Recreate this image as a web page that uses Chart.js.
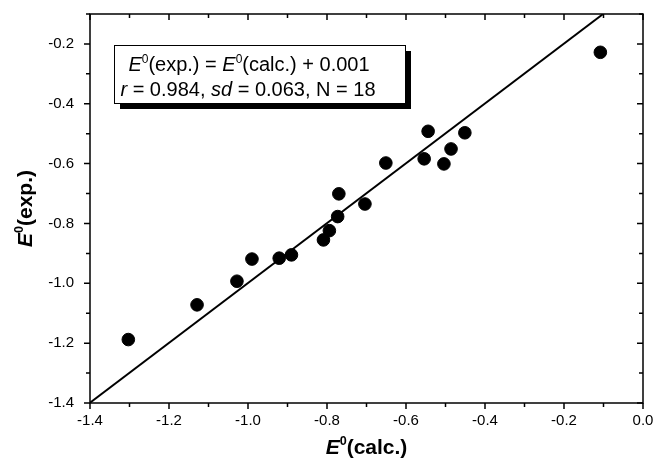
<!doctype html>
<html lang="en">
<head>
<meta charset="utf-8">
<title>E0 exp. vs calc.</title>
<script src="https://cdn.jsdelivr.net/npm/chart.js"></script>
<style>
  body { margin: 0; background: #fff; }
  #wrap { width: 654px; height: 468px; }
</style>
</head>
<body>
<div id="wrap"><canvas id="chart" width="654" height="468"></canvas></div>
<script>
  // measured points: E0(calc.) vs E0(exp.)
  const calcValues = [-1.303, -1.129, -1.028, -0.990, -0.921, -0.890, -0.809, -0.794, -0.773,
                      -0.770, -0.704, -0.651, -0.554, -0.544, -0.504, -0.486, -0.451, -0.108];
  const expValues  = [-1.188, -1.072, -0.993, -0.919, -0.916, -0.905, -0.855, -0.824, -0.777,
                      -0.701, -0.735, -0.598, -0.584, -0.492, -0.601, -0.551, -0.497, -0.228];

  // fit line E0(exp.) = E0(calc.) + 0.001
  const fitX = [-1.4, -0.101];
  const fitY = [-1.399, -0.1];

  const xTicks = [-1.4, -1.2, -1.0, -0.8, -0.6, -0.4, -0.2, 0.0];
  const yTicks = [-1.4, -1.2, -1.0, -0.8, -0.6, -0.4, -0.2];
  const xMinor = [-1.3, -1.1, -0.9, -0.7, -0.5, -0.3, -0.1];
  const yMinor = [-1.3, -1.1, -0.9, -0.7, -0.5, -0.3, -0.1];

  const FONT = '"Liberation Sans", Arial, sans-serif';

  // draw a line of text made of styled parts, centred on cx
  function drawRich(ctx, parts, cx, y, size, bold) {
    const w = bold ? 'bold ' : '';
    const fontFor = p => (p.italic ? 'italic ' : '') + w + (p.sup ? size * 0.6 : size) + 'px ' + FONT;
    let total = 0;
    parts.forEach(p => { ctx.font = fontFor(p); total += ctx.measureText(p.t).width; });
    let x = cx - total / 2;
    ctx.textAlign = 'left';
    ctx.textBaseline = 'alphabetic';
    parts.forEach(p => {
      ctx.font = fontFor(p);
      ctx.fillText(p.t, x, p.sup ? y - size * 0.42 : y);
      x += ctx.measureText(p.t).width;
    });
  }

  const decorations = {
    id: 'decorations',
    afterDatasetsDraw(chart) {
      const ctx = chart.ctx;
      const a = chart.chartArea;
      const xs = chart.scales.x, ys = chart.scales.y;
      ctx.save();
      ctx.strokeStyle = '#000';
      ctx.fillStyle = '#000';

      // frame
      ctx.lineWidth = 1.5;
      ctx.strokeRect(a.left, a.top, a.right - a.left, a.bottom - a.top);

      // ticks: bottom/left outward, top/right inward
      ctx.beginPath();
      const tick = (vals, len) => {
        vals.forEach(v => {
          const px = xs.getPixelForValue(v);
          ctx.moveTo(px, a.bottom); ctx.lineTo(px, a.bottom + len);
          ctx.moveTo(px, a.top); ctx.lineTo(px, a.top + len);
        });
      };
      const ytick = (vals, len) => {
        vals.forEach(v => {
          const py = ys.getPixelForValue(v);
          ctx.moveTo(a.left, py); ctx.lineTo(a.left - len, py);
          ctx.moveTo(a.right, py); ctx.lineTo(a.right - len, py);
        });
      };
      tick(xTicks, 6); tick(xMinor, 4);
      ytick(yTicks, 6); ytick(yMinor, 4);
      ctx.stroke();

      // equation box with shadow
      const bx = 114, by = 45, bw = 291, bh = 58;
      ctx.fillRect(bx + 6, by + 6, bw, bh);
      ctx.fillStyle = '#fff';
      ctx.fillRect(bx, by, bw, bh);
      ctx.lineWidth = 1;
      ctx.strokeRect(bx + 0.5, by + 0.5, bw, bh);
      ctx.fillStyle = '#000';
      drawRich(ctx, [
        { t: 'E', italic: true }, { t: '0', sup: true }, { t: '(exp.) = ' },
        { t: 'E', italic: true }, { t: '0', sup: true }, { t: '(calc.) + 0.001' }
      ], 249, 71, 20);
      drawRich(ctx, [
        { t: 'r', italic: true }, { t: ' = 0.984, ' },
        { t: 'sd', italic: true }, { t: ' = 0.063, N = 18' }
      ], 248, 96, 20);

      // axis titles
      drawRich(ctx, [
        { t: 'E', italic: true }, { t: '0', sup: true }, { t: '(calc.)' }
      ], (a.left + a.right) / 2, 454, 21, true);
      ctx.translate(32, (a.top + a.bottom) / 2);
      ctx.rotate(-Math.PI / 2);
      drawRich(ctx, [
        { t: 'E', italic: true }, { t: '0', sup: true }, { t: '(exp.)' }
      ], 0, 0, 21, true);
      ctx.restore();
    }
  };

  new Chart(document.getElementById('chart'), {
    type: 'scatter',
    data: {
      datasets: [
        {
          type: 'line',
          data: fitX.map((x, i) => ({ x: x, y: fitY[i] })),
          borderColor: '#000',
          borderWidth: 2,
          pointRadius: 0,
          fill: false
        },
        {
          data: calcValues.map((x, i) => ({ x: x, y: expValues[i] })),
          backgroundColor: '#000',
          borderColor: '#000',
          pointRadius: 6.3,
          pointHoverRadius: 6.3
        }
      ]
    },
    plugins: [decorations],
    options: {
      responsive: false,
      animation: false,
      events: [],
      layout: { padding: { top: 14, right: 11, left: 0, bottom: 0 } },
      plugins: { legend: { display: false }, tooltip: { enabled: false } },
      scales: {
        x: {
          type: 'linear', min: -1.4, max: 0,
          afterBuildTicks: s => { s.ticks = xTicks.map(v => ({ value: v })); },
          afterFit: s => { s.height = 65; s.paddingLeft = 0; s.paddingRight = 0; },
          grid: { display: false },
          border: { display: false },
          ticks: {
            padding: 1, color: '#000', maxRotation: 0,
            font: { family: FONT, size: 15 },
            callback: v => v.toFixed(1)
          }
        },
        y: {
          type: 'linear', min: -1.4, max: -0.1,
          afterBuildTicks: s => { s.ticks = yTicks.map(v => ({ value: v })); },
          afterFit: s => { s.width = 90; s.paddingTop = 0; s.paddingBottom = 0; },
          grid: { display: false },
          border: { display: false },
          ticks: {
            padding: 8, color: '#000',
            font: { family: FONT, size: 15 },
            callback: v => v.toFixed(1)
          }
        }
      }
    }
  });
</script>
</body>
</html>
